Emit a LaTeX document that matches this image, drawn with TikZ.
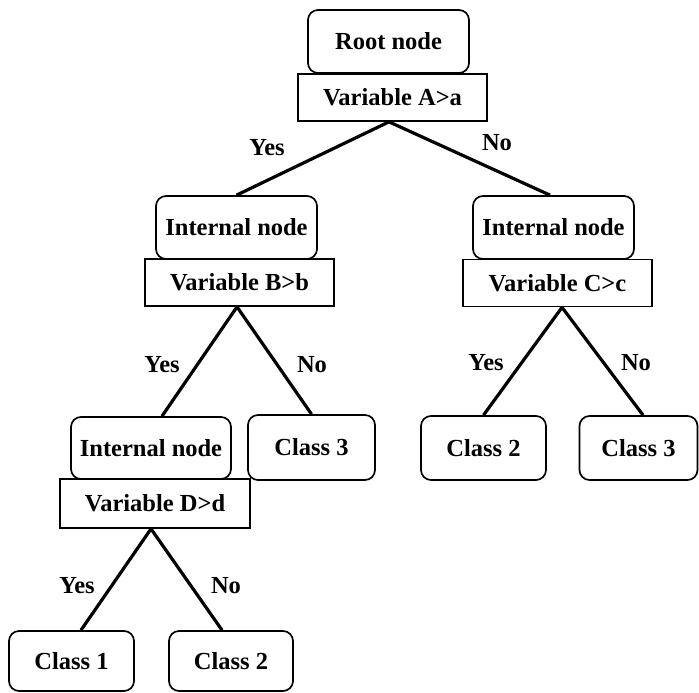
\documentclass[tikz,border=0pt]{standalone}
\usepackage{fontspec}
\setmainfont{Liberation Serif}
\tikzset{
	tnode/.style={draw,rounded corners=10pt,line width=1.7pt,font=\bfseries\fontsize{24.5}{28}\selectfont,inner sep=0pt},
	vbox/.style={draw,line width=1.7pt,font=\bfseries\fontsize{24.5}{28}\selectfont,inner sep=0pt,minimum width=189pt,minimum height=47pt},
	lbl/.style={font=\bfseries\fontsize{24.5}{28}\selectfont,inner sep=0pt},
	branch/.style={line width=3.2pt}
}
\begin{document}
\begin{tikzpicture}[x=1pt,y=-1pt]
	\useasboundingbox (0,0) rectangle (699,693);
	\node[tnode,minimum width=161pt,minimum height=63pt] (root) at (388.5,41.5) {Root node};
	\node[vbox] (varA) at (392.5,97.5) {Variable A>a};
	\node[tnode,minimum width=161pt,minimum height=63pt] (int1) at (236.5,227.5) {Internal node};
	\node[vbox] (varB) at (239.5,282.5) {Variable B>b};
	\node[tnode,minimum width=161pt,minimum height=63pt] (int2) at (553.5,227.5) {Internal node};
	\node[vbox] (varC) at (557.5,283) {Variable C>c};
	\node[tnode,minimum width=160pt,minimum height=62pt] (int3) at (151,448) {Internal node};
	\node[vbox,minimum width=190pt,minimum height=49pt] (varD) at (155,503.5) {Variable D>d};
	\node[tnode,minimum width=127pt,minimum height=65pt] (clsB3) at (311.5,447.5) {Class 3};
	\node[tnode,minimum width=125pt,minimum height=64pt] (clsC2) at (483.5,448) {Class 2};
	\node[tnode,minimum width=118pt,minimum height=64pt] (clsC3) at (638.5,448) {Class 3};
	\node[tnode,minimum width=125pt,minimum height=60pt] (clsD1) at (71.5,661) {Class 1};
	\node[tnode,minimum width=124pt,minimum height=60pt] (clsD2) at (231,661) {Class 2};
	\draw[branch] ([xshift=-3.5pt]varA.south) -- (int1.north);
	\draw[branch] ([xshift=-3.5pt]varA.south) -- ([xshift=-3.5pt]int2.north);
	\draw[branch] ([xshift=-2.5pt]varB.south) -- ([xshift=11pt]int3.north);
	\draw[branch] ([xshift=-2.5pt]varB.south) -- (clsB3.north);
	\draw[branch] ([xshift=4.5pt]varC.south) -- (clsC2.north);
	\draw[branch] ([xshift=4.5pt]varC.south) -- ([xshift=4.5pt]clsC3.north);
	\draw[branch] ([xshift=-4pt]varD.south) -- ([xshift=9.5pt]clsD1.north);
	\draw[branch] ([xshift=-4pt]varD.south) -- ([xshift=-9pt]clsD2.north);
	\node[lbl] (yesA) at (267,148) {Yes};
	\node[lbl] (noA) at (497,143) {No};
	\node[lbl] (yesB) at (162,365) {Yes};
	\node[lbl] (noB) at (312,365) {No};
	\node[lbl] (yesC) at (486,363) {Yes};
	\node[lbl] (noC) at (636,363) {No};
	\node[lbl] (yesD) at (77,586) {Yes};
	\node[lbl] (noD) at (226,586) {No};
\end{tikzpicture}
\end{document}
